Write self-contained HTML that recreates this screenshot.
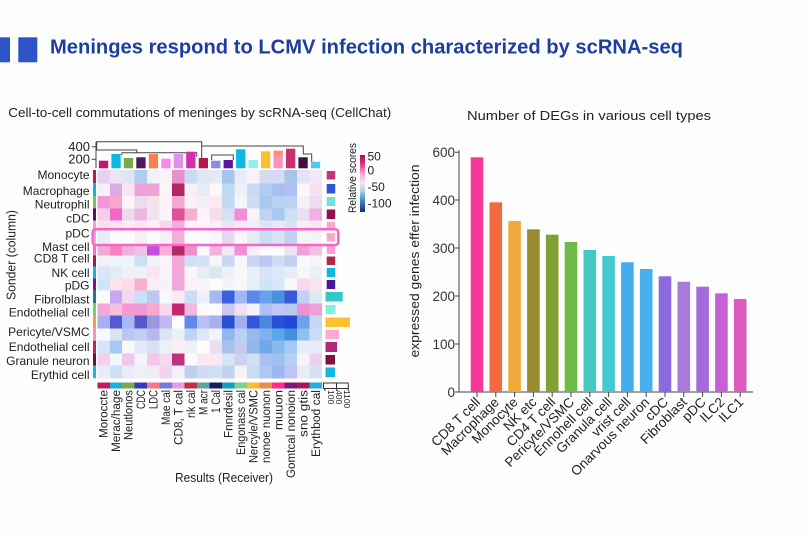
<!DOCTYPE html>
<html><head><meta charset="utf-8"><style>
html,body{margin:0;padding:0;background:#fefefe;}
svg{display:block;font-family:"Liberation Sans",Arial,sans-serif;}
</style></head><body>
<svg width="808" height="538" viewBox="0 0 808 538" xmlns="http://www.w3.org/2000/svg">
<defs>
<linearGradient id="cb" x1="0" y1="0" x2="0" y2="1">
<stop offset="0" stop-color="#9c0d58"/><stop offset="0.15" stop-color="#e0308a"/><stop offset="0.33" stop-color="#f8a8d0"/><stop offset="0.48" stop-color="#f6e6f2"/><stop offset="0.62" stop-color="#b8d4ec"/><stop offset="0.8" stop-color="#3a88c8"/><stop offset="1" stop-color="#1a2680"/>
</linearGradient>
</defs>
<rect width="808" height="538" fill="#fefefe"/>
<!-- header -->
<rect x="0" y="37.3" width="10" height="25" fill="#2d55c8"/>
<rect x="18.3" y="37.3" width="19" height="25" fill="#2d55c8"/>
<text x="50" y="53.5" font-size="20.5" font-weight="bold" fill="#1c3e9e" textLength="633" lengthAdjust="spacingAndGlyphs">Meninges respond to LCMV infection characterized by scRNA-seq</text>
<text x="8.3" y="117" font-size="12.5" fill="#222" textLength="383" lengthAdjust="spacingAndGlyphs">Cell-to-cell commutations of meninges by scRNA-seq (CellChat)</text>

<!-- top bar axis -->
<g stroke="#444" stroke-width="1" fill="none">
<path d="M96 141.7 V168 M91.7 146.7 H96 M91.7 159.3 H96"/>
<path d="M96 141.7 H201.7 V158.3 M201.7 146 H303.3 V154 H311.7 V161.7"/>
<path d="M96.7 141.7 V150 H136.7 V152.7 M121.7 152.7 H196.7 V156.7 M121.7 152.7 V155"/>
<path d="M211.7 160 V155 H233.3 V160"/>
</g>
<g font-size="13" fill="#222" text-anchor="end">
<text x="90" y="151">400</text>
<text x="90" y="163.5">200</text>
</g>
<!-- top bars -->
<g>
<rect x="98.9" y="160.7" width="9.3" height="7.6" fill="#c0187a"/>
<rect x="111.4" y="154" width="9.3" height="14.3" fill="#10b8e0"/>
<rect x="123.8" y="158" width="9.3" height="10.3" fill="#78a848"/>
<rect x="136.3" y="157.3" width="9.3" height="11" fill="#4a1860"/>
<rect x="148.8" y="154" width="9.3" height="14.3" fill="#f88050"/>
<rect x="161.3" y="158.7" width="9.3" height="9.6" fill="#f888e8"/>
<rect x="173.7" y="154" width="9.3" height="14.3" fill="#e090e8"/>
<rect x="186.2" y="151.7" width="9.3" height="16.6" fill="#d030a8"/>
<rect x="198.7" y="158" width="9.3" height="10.3" fill="#b01850"/>
<rect x="211.1" y="160.7" width="9.3" height="7.6" fill="#8890d8"/>
<rect x="223.6" y="160" width="9.3" height="8.3" fill="#5a18a0"/>
<rect x="236.1" y="149.3" width="9.3" height="19" fill="#10b8e0"/>
<rect x="248.5" y="160" width="9.3" height="8.3" fill="#90f0e8"/>
<rect x="261" y="151.3" width="9.3" height="17" fill="#ffc030"/>
<rect x="273.5" y="150.7" width="9.3" height="17.6" fill="#ff90c0"/>
<rect x="273.5" y="150.7" width="9.3" height="6" fill="#f89080"/>
<rect x="286" y="148.7" width="9.3" height="19.6" fill="#c83070"/>
<rect x="298.4" y="157.3" width="9.3" height="11" fill="#401040"/>
<rect x="310.9" y="161.7" width="9.3" height="6.6" fill="#50c8f0"/>
</g>

<!-- heatmap -->
<g shape-rendering="crispEdges">
<g transform="translate(0,170)">
<rect x="97.3" width="12.6" height="13.4" fill="#e8d0ee"/><rect x="109.8" width="12.6" height="13.4" fill="#ece4f4"/><rect x="122.2" width="12.6" height="13.4" fill="#e0e4f4"/><rect x="134.7" width="12.6" height="13.4" fill="#b0ccf0"/><rect x="147.2" width="12.6" height="13.4" fill="#eef2fa"/><rect x="159.7" width="12.6" height="13.4" fill="#f8f4f8"/><rect x="172.1" width="12.6" height="13.4" fill="#e890cc"/><rect x="184.6" width="12.6" height="13.4" fill="#c8dcf0"/><rect x="197.1" width="12.6" height="13.4" fill="#e0e8f4"/><rect x="209.5" width="12.6" height="13.4" fill="#e4eaf6"/><rect x="222" width="12.6" height="13.4" fill="#a8c4ec"/><rect x="234.5" width="12.6" height="13.4" fill="#e8ecf8"/><rect x="246.9" width="12.6" height="13.4" fill="#f4f4f8"/><rect x="259.4" width="12.6" height="13.4" fill="#d4dcf2"/><rect x="271.9" width="12.6" height="13.4" fill="#d4dcf4"/><rect x="284.4" width="12.6" height="13.4" fill="#a8c4ec"/><rect x="296.8" width="12.6" height="13.4" fill="#e4e4f4"/><rect x="309.3" width="12.6" height="13.4" fill="#f0e8f4"/>
</g>
<g transform="translate(0,183.3)">
<rect x="97.3" width="12.6" height="12.8" fill="#f8f0f4"/><rect x="109.8" width="12.6" height="12.8" fill="#dcaae4"/><rect x="122.2" width="12.6" height="12.8" fill="#f8e4f0"/><rect x="134.7" width="12.6" height="12.8" fill="#f0a0dc"/><rect x="147.2" width="12.6" height="12.8" fill="#f0a4d4"/><rect x="159.7" width="12.6" height="12.8" fill="#faf6f8"/><rect x="172.1" width="12.6" height="12.8" fill="#b02860"/><rect x="184.6" width="12.6" height="12.8" fill="#f4f0f6"/><rect x="197.1" width="12.6" height="12.8" fill="#eaeaf6"/><rect x="209.5" width="12.6" height="12.8" fill="#fcf8fa"/><rect x="222" width="12.6" height="12.8" fill="#c0d8f0"/><rect x="234.5" width="12.6" height="12.8" fill="#eef0f8"/><rect x="246.9" width="12.6" height="12.8" fill="#c8daf4"/><rect x="259.4" width="12.6" height="12.8" fill="#b4ccf0"/><rect x="271.9" width="12.6" height="12.8" fill="#a8c0f0"/><rect x="284.4" width="12.6" height="12.8" fill="#b0c0f4"/><rect x="296.8" width="12.6" height="12.8" fill="#fcf8fa"/><rect x="309.3" width="12.6" height="12.8" fill="#f8e0f0"/>
</g>
<g transform="translate(0,196)">
<rect x="97.3" width="12.6" height="12.4" fill="#f098d8"/><rect x="109.8" width="12.6" height="12.4" fill="#f8a8d0"/><rect x="122.2" width="12.6" height="12.4" fill="#fcf4f8"/><rect x="134.7" width="12.6" height="12.4" fill="#ecdcf0"/><rect x="147.2" width="12.6" height="12.4" fill="#f8e0ee"/><rect x="159.7" width="12.6" height="12.4" fill="#faf4f8"/><rect x="172.1" width="12.6" height="12.4" fill="#f4a8d0"/><rect x="184.6" width="12.6" height="12.4" fill="#fcf0f6"/><rect x="197.1" width="12.6" height="12.4" fill="#f4eef6"/><rect x="209.5" width="12.6" height="12.4" fill="#fce8f2"/><rect x="222" width="12.6" height="12.4" fill="#c4d8f0"/><rect x="234.5" width="12.6" height="12.4" fill="#f4f4fa"/><rect x="246.9" width="12.6" height="12.4" fill="#d0dcf6"/><rect x="259.4" width="12.6" height="12.4" fill="#a8c8f0"/><rect x="271.9" width="12.6" height="12.4" fill="#b8d0f4"/><rect x="284.4" width="12.6" height="12.4" fill="#c0d0f2"/><rect x="296.8" width="12.6" height="12.4" fill="#f4f0f8"/><rect x="309.3" width="12.6" height="12.4" fill="#ecdcf0"/>
</g>
<g transform="translate(0,208.3)">
<rect x="97.3" width="12.6" height="12.5" fill="#f0d0e8"/><rect x="109.8" width="12.6" height="12.5" fill="#f068c8"/><rect x="122.2" width="12.6" height="12.5" fill="#f0d8ec"/><rect x="134.7" width="12.6" height="12.5" fill="#ecb8e0"/><rect x="147.2" width="12.6" height="12.5" fill="#f0e4f2"/><rect x="159.7" width="12.6" height="12.5" fill="#faf4f8"/><rect x="172.1" width="12.6" height="12.5" fill="#e05098"/><rect x="184.6" width="12.6" height="12.5" fill="#f8b0d0"/><rect x="197.1" width="12.6" height="12.5" fill="#fcf4f8"/><rect x="209.5" width="12.6" height="12.5" fill="#f4dcec"/><rect x="222" width="12.6" height="12.5" fill="#d8e0f4"/><rect x="234.5" width="12.6" height="12.5" fill="#f08ed8"/><rect x="246.9" width="12.6" height="12.5" fill="#f6f6fa"/><rect x="259.4" width="12.6" height="12.5" fill="#c0d4f2"/><rect x="271.9" width="12.6" height="12.5" fill="#a8c8f0"/><rect x="284.4" width="12.6" height="12.5" fill="#d0e0f4"/><rect x="296.8" width="12.6" height="12.5" fill="#e8e0f0"/><rect x="309.3" width="12.6" height="12.5" fill="#f0b0e0"/>
</g>
<g transform="translate(0,220.7)">
<rect x="97.3" width="12.6" height="9.7" fill="#f8e0f0"/><rect x="109.8" width="12.6" height="9.7" fill="#f8e4f2"/><rect x="122.2" width="12.6" height="9.7" fill="#fcecf4"/><rect x="134.7" width="12.6" height="9.7" fill="#f8e8f2"/><rect x="147.2" width="12.6" height="9.7" fill="#fcf0f6"/><rect x="159.7" width="12.6" height="9.7" fill="#f8d8ec"/><rect x="172.1" width="12.6" height="9.7" fill="#f4b0d8"/><rect x="184.6" width="12.6" height="9.7" fill="#fcf4f8"/><rect x="197.1" width="12.6" height="9.7" fill="#fcf4f8"/><rect x="209.5" width="12.6" height="9.7" fill="#f8eef6"/><rect x="222" width="12.6" height="9.7" fill="#e8e4f4"/><rect x="234.5" width="12.6" height="9.7" fill="#f8e8f4"/><rect x="246.9" width="12.6" height="9.7" fill="#eef0f8"/><rect x="259.4" width="12.6" height="9.7" fill="#dce6f6"/><rect x="271.9" width="12.6" height="9.7" fill="#e4eaf8"/><rect x="284.4" width="12.6" height="9.7" fill="#dce4f4"/><rect x="296.8" width="12.6" height="9.7" fill="#f8eef4"/><rect x="309.3" width="12.6" height="9.7" fill="#f8e8f2"/>
</g>
<g transform="translate(0,230.3)">
<rect x="97.3" width="12.6" height="14.3" fill="#e4ecf8"/><rect x="109.8" width="12.6" height="14.3" fill="#fcfcfc"/><rect x="122.2" width="12.6" height="14.3" fill="#fcfcfc"/><rect x="134.7" width="12.6" height="14.3" fill="#f4f0f6"/><rect x="147.2" width="12.6" height="14.3" fill="#fcfcfc"/><rect x="159.7" width="12.6" height="14.3" fill="#f8f0f4"/><rect x="172.1" width="12.6" height="14.3" fill="#f0b0d8"/><rect x="184.6" width="12.6" height="14.3" fill="#fcfcfc"/><rect x="197.1" width="12.6" height="14.3" fill="#fcfcfc"/><rect x="209.5" width="12.6" height="14.3" fill="#f8f8fc"/><rect x="222" width="12.6" height="14.3" fill="#e4d8f0"/><rect x="234.5" width="12.6" height="14.3" fill="#f8f8fa"/><rect x="246.9" width="12.6" height="14.3" fill="#e4ecf8"/><rect x="259.4" width="12.6" height="14.3" fill="#c8ddf6"/><rect x="271.9" width="12.6" height="14.3" fill="#d8e4f6"/><rect x="284.4" width="12.6" height="14.3" fill="#c0d4f0"/><rect x="296.8" width="12.6" height="14.3" fill="#f8f4f0"/><rect x="309.3" width="12.6" height="14.3" fill="#f4f4f8"/>
</g>
<g transform="translate(0,244.5)">
<rect x="97.3" width="12.6" height="11.1" fill="#f0a8d8"/><rect x="109.8" width="12.6" height="11.1" fill="#f880c0"/><rect x="122.2" width="12.6" height="11.1" fill="#f0b0e0"/><rect x="134.7" width="12.6" height="11.1" fill="#f0c0e8"/><rect x="147.2" width="12.6" height="11.1" fill="#c050d8"/><rect x="159.7" width="12.6" height="11.1" fill="#f8b0d8"/><rect x="172.1" width="12.6" height="11.1" fill="#b02868"/><rect x="184.6" width="12.6" height="11.1" fill="#f090c8"/><rect x="197.1" width="12.6" height="11.1" fill="#fafafc"/><rect x="209.5" width="12.6" height="11.1" fill="#f4b0e0"/><rect x="222" width="12.6" height="11.1" fill="#f0e8f4"/><rect x="234.5" width="12.6" height="11.1" fill="#f090d8"/><rect x="246.9" width="12.6" height="11.1" fill="#f8f0f6"/><rect x="259.4" width="12.6" height="11.1" fill="#fcfcfc"/><rect x="271.9" width="12.6" height="11.1" fill="#fcfcfc"/><rect x="284.4" width="12.6" height="11.1" fill="#e8e4f4"/><rect x="296.8" width="12.6" height="11.1" fill="#f4a0d8"/><rect x="309.3" width="12.6" height="11.1" fill="#f4c0e0"/>
</g>
<g transform="translate(0,255.5)">
<rect x="97.3" width="12.6" height="11.1" fill="#f4f0f8"/><rect x="109.8" width="12.6" height="11.1" fill="#eef2fa"/><rect x="122.2" width="12.6" height="11.1" fill="#eef2fa"/><rect x="134.7" width="12.6" height="11.1" fill="#d0def4"/><rect x="147.2" width="12.6" height="11.1" fill="#f2f2fa"/><rect x="159.7" width="12.6" height="11.1" fill="#f8f6fa"/><rect x="172.1" width="12.6" height="11.1" fill="#f0a8d8"/><rect x="184.6" width="12.6" height="11.1" fill="#d0e0f4"/><rect x="197.1" width="12.6" height="11.1" fill="#d4e2f6"/><rect x="209.5" width="12.6" height="11.1" fill="#f4f6fa"/><rect x="222" width="12.6" height="11.1" fill="#c8d8f2"/><rect x="234.5" width="12.6" height="11.1" fill="#f8f8fa"/><rect x="246.9" width="12.6" height="11.1" fill="#c8d8f2"/><rect x="259.4" width="12.6" height="11.1" fill="#b8c8f0"/><rect x="271.9" width="12.6" height="11.1" fill="#d0dcf4"/><rect x="284.4" width="12.6" height="11.1" fill="#c0d0f2"/><rect x="296.8" width="12.6" height="11.1" fill="#fafafc"/><rect x="309.3" width="12.6" height="11.1" fill="#f4f4fa"/>
</g>
<g transform="translate(0,266.5)">
<rect x="97.3" width="12.6" height="12.1" fill="#dce4f6"/><rect x="109.8" width="12.6" height="12.1" fill="#e0ecfa"/><rect x="122.2" width="12.6" height="12.1" fill="#eef0f6"/><rect x="134.7" width="12.6" height="12.1" fill="#eef2f8"/><rect x="147.2" width="12.6" height="12.1" fill="#f8e4f2"/><rect x="159.7" width="12.6" height="12.1" fill="#f8f4f8"/><rect x="172.1" width="12.6" height="12.1" fill="#f0a8d8"/><rect x="184.6" width="12.6" height="12.1" fill="#f8f8fa"/><rect x="197.1" width="12.6" height="12.1" fill="#e8ecf8"/><rect x="209.5" width="12.6" height="12.1" fill="#d8e8f4"/><rect x="222" width="12.6" height="12.1" fill="#eef0f8"/><rect x="234.5" width="12.6" height="12.1" fill="#f8f8fa"/><rect x="246.9" width="12.6" height="12.1" fill="#eaf0f8"/><rect x="259.4" width="12.6" height="12.1" fill="#d8e4f8"/><rect x="271.9" width="12.6" height="12.1" fill="#dce8f8"/><rect x="284.4" width="12.6" height="12.1" fill="#e8ecf8"/><rect x="296.8" width="12.6" height="12.1" fill="#f8f8fa"/><rect x="309.3" width="12.6" height="12.1" fill="#ecf0f8"/>
</g>
<g transform="translate(0,278.5)">
<rect x="97.3" width="12.6" height="12.3" fill="#d0e4f8"/><rect x="109.8" width="12.6" height="12.3" fill="#fce4ec"/><rect x="122.2" width="12.6" height="12.3" fill="#fcdce8"/><rect x="134.7" width="12.6" height="12.3" fill="#f8b0cc"/><rect x="147.2" width="12.6" height="12.3" fill="#f8eef4"/><rect x="159.7" width="12.6" height="12.3" fill="#f4f2fa"/><rect x="172.1" width="12.6" height="12.3" fill="#f0a8d8"/><rect x="184.6" width="12.6" height="12.3" fill="#fcf0f6"/><rect x="197.1" width="12.6" height="12.3" fill="#f8f4f8"/><rect x="209.5" width="12.6" height="12.3" fill="#fcfcf8"/><rect x="222" width="12.6" height="12.3" fill="#f2f4f8"/><rect x="234.5" width="12.6" height="12.3" fill="#f8f8fa"/><rect x="246.9" width="12.6" height="12.3" fill="#e8eef8"/><rect x="259.4" width="12.6" height="12.3" fill="#d0e4f8"/><rect x="271.9" width="12.6" height="12.3" fill="#d8e8f8"/><rect x="284.4" width="12.6" height="12.3" fill="#f8f8fa"/><rect x="296.8" width="12.6" height="12.3" fill="#f8d8ec"/><rect x="309.3" width="12.6" height="12.3" fill="#f8e4f0"/>
</g>
<g transform="translate(0,290.7)">
<rect x="97.3" width="12.6" height="12.7" fill="#fcfcfc"/><rect x="109.8" width="12.6" height="12.7" fill="#c8a8f0"/><rect x="122.2" width="12.6" height="12.7" fill="#f4d8f0"/><rect x="134.7" width="12.6" height="12.7" fill="#c8e0f6"/><rect x="147.2" width="12.6" height="12.7" fill="#bcc8f0"/><rect x="159.7" width="12.6" height="12.7" fill="#f8f8fc"/><rect x="172.1" width="12.6" height="12.7" fill="#fce8f4"/><rect x="184.6" width="12.6" height="12.7" fill="#d0dcf4"/><rect x="197.1" width="12.6" height="12.7" fill="#eef0f8"/><rect x="209.5" width="12.6" height="12.7" fill="#a8b8f0"/><rect x="222" width="12.6" height="12.7" fill="#3a60e0"/><rect x="234.5" width="12.6" height="12.7" fill="#a0b8f4"/><rect x="246.9" width="12.6" height="12.7" fill="#5a88e8"/><rect x="259.4" width="12.6" height="12.7" fill="#68a0f0"/><rect x="271.9" width="12.6" height="12.7" fill="#4890e0"/><rect x="284.4" width="12.6" height="12.7" fill="#3858d8"/><rect x="296.8" width="12.6" height="12.7" fill="#c0d0f6"/><rect x="309.3" width="12.6" height="12.7" fill="#e0e8f4"/>
</g>
<g transform="translate(0,303.3)">
<rect x="97.3" width="12.6" height="12.5" fill="#f4a8d8"/><rect x="109.8" width="12.6" height="12.5" fill="#f4c0e0"/><rect x="122.2" width="12.6" height="12.5" fill="#f898d0"/><rect x="134.7" width="12.6" height="12.5" fill="#f098d0"/><rect x="147.2" width="12.6" height="12.5" fill="#f8a8d0"/><rect x="159.7" width="12.6" height="12.5" fill="#f8d8ec"/><rect x="172.1" width="12.6" height="12.5" fill="#c02870"/><rect x="184.6" width="12.6" height="12.5" fill="#f4b8e0"/><rect x="197.1" width="12.6" height="12.5" fill="#fcfcfc"/><rect x="209.5" width="12.6" height="12.5" fill="#fcfcfc"/><rect x="222" width="12.6" height="12.5" fill="#c8c8f0"/><rect x="234.5" width="12.6" height="12.5" fill="#f0e0f4"/><rect x="246.9" width="12.6" height="12.5" fill="#f4f4f8"/><rect x="259.4" width="12.6" height="12.5" fill="#b0c0f4"/><rect x="271.9" width="12.6" height="12.5" fill="#c0c8f4"/><rect x="284.4" width="12.6" height="12.5" fill="#b8c8f0"/><rect x="296.8" width="12.6" height="12.5" fill="#f090d8"/><rect x="309.3" width="12.6" height="12.5" fill="#f0a0d8"/>
</g>
<g transform="translate(0,315.7)">
<rect x="97.3" width="12.6" height="12.7" fill="#a8b0f0"/><rect x="109.8" width="12.6" height="12.7" fill="#5858d0"/><rect x="122.2" width="12.6" height="12.7" fill="#a8b8f4"/><rect x="134.7" width="12.6" height="12.7" fill="#5858c8"/><rect x="147.2" width="12.6" height="12.7" fill="#9898e0"/><rect x="159.7" width="12.6" height="12.7" fill="#c0b8f0"/><rect x="172.1" width="12.6" height="12.7" fill="#fcfcfc"/><rect x="184.6" width="12.6" height="12.7" fill="#6088e8"/><rect x="197.1" width="12.6" height="12.7" fill="#b8c0f4"/><rect x="209.5" width="12.6" height="12.7" fill="#a8b0f0"/><rect x="222" width="12.6" height="12.7" fill="#2850d0"/><rect x="234.5" width="12.6" height="12.7" fill="#a0b0f0"/><rect x="246.9" width="12.6" height="12.7" fill="#3058d8"/><rect x="259.4" width="12.6" height="12.7" fill="#4888e0"/><rect x="271.9" width="12.6" height="12.7" fill="#2850d8"/><rect x="284.4" width="12.6" height="12.7" fill="#2048d0"/><rect x="296.8" width="12.6" height="12.7" fill="#70a0e8"/><rect x="309.3" width="12.6" height="12.7" fill="#c8d8f4"/>
</g>
<g transform="translate(0,328.3)">
<rect x="97.3" width="12.6" height="12.5" fill="#f8f8fc"/><rect x="109.8" width="12.6" height="12.5" fill="#dce4f0"/><rect x="122.2" width="12.6" height="12.5" fill="#b8c8f0"/><rect x="134.7" width="12.6" height="12.5" fill="#c0d0f4"/><rect x="147.2" width="12.6" height="12.5" fill="#b8b8f0"/><rect x="159.7" width="12.6" height="12.5" fill="#dce4f6"/><rect x="172.1" width="12.6" height="12.5" fill="#e8f0f8"/><rect x="184.6" width="12.6" height="12.5" fill="#c0d4f4"/><rect x="197.1" width="12.6" height="12.5" fill="#e0e8f6"/><rect x="209.5" width="12.6" height="12.5" fill="#f0f4f8"/><rect x="222" width="12.6" height="12.5" fill="#90b8f0"/><rect x="234.5" width="12.6" height="12.5" fill="#b8d0f4"/><rect x="246.9" width="12.6" height="12.5" fill="#98b8f0"/><rect x="259.4" width="12.6" height="12.5" fill="#80b0f0"/><rect x="271.9" width="12.6" height="12.5" fill="#58a8e8"/><rect x="284.4" width="12.6" height="12.5" fill="#4090e0"/><rect x="296.8" width="12.6" height="12.5" fill="#90c0f0"/><rect x="309.3" width="12.6" height="12.5" fill="#c8ddf4"/>
</g>
<g transform="translate(0,340.7)">
<rect x="97.3" width="12.6" height="12.7" fill="#d8e4f8"/><rect x="109.8" width="12.6" height="12.7" fill="#a8c8f4"/><rect x="122.2" width="12.6" height="12.7" fill="#f8f8fa"/><rect x="134.7" width="12.6" height="12.7" fill="#e4e8f8"/><rect x="147.2" width="12.6" height="12.7" fill="#d8e0f4"/><rect x="159.7" width="12.6" height="12.7" fill="#ecf0f8"/><rect x="172.1" width="12.6" height="12.7" fill="#fceef4"/><rect x="184.6" width="12.6" height="12.7" fill="#eef0f8"/><rect x="197.1" width="12.6" height="12.7" fill="#fcfcfc"/><rect x="209.5" width="12.6" height="12.7" fill="#ecdcf0"/><rect x="222" width="12.6" height="12.7" fill="#a8c0ec"/><rect x="234.5" width="12.6" height="12.7" fill="#c8c8f0"/><rect x="246.9" width="12.6" height="12.7" fill="#90b8ee"/><rect x="259.4" width="12.6" height="12.7" fill="#70a8ec"/><rect x="271.9" width="12.6" height="12.7" fill="#88b8f0"/><rect x="284.4" width="12.6" height="12.7" fill="#a8c8f4"/><rect x="296.8" width="12.6" height="12.7" fill="#e8ecf8"/><rect x="309.3" width="12.6" height="12.7" fill="#e8eaf8"/>
</g>
<g transform="translate(0,353.3)">
<rect x="97.3" width="12.6" height="12.5" fill="#f4d0ec"/><rect x="109.8" width="12.6" height="12.5" fill="#f0f8f8"/><rect x="122.2" width="12.6" height="12.5" fill="#f0c8ec"/><rect x="134.7" width="12.6" height="12.5" fill="#f4f4fa"/><rect x="147.2" width="12.6" height="12.5" fill="#f4c8e8"/><rect x="159.7" width="12.6" height="12.5" fill="#f8d8ee"/><rect x="172.1" width="12.6" height="12.5" fill="#c03080"/><rect x="184.6" width="12.6" height="12.5" fill="#fcfcfc"/><rect x="197.1" width="12.6" height="12.5" fill="#fce8f2"/><rect x="209.5" width="12.6" height="12.5" fill="#fce8f2"/><rect x="222" width="12.6" height="12.5" fill="#d8e4f6"/><rect x="234.5" width="12.6" height="12.5" fill="#d0d0f0"/><rect x="246.9" width="12.6" height="12.5" fill="#d0e0f4"/><rect x="259.4" width="12.6" height="12.5" fill="#a8c0f0"/><rect x="271.9" width="12.6" height="12.5" fill="#a0c0f0"/><rect x="284.4" width="12.6" height="12.5" fill="#b8d0f4"/><rect x="296.8" width="12.6" height="12.5" fill="#f4f4fa"/><rect x="309.3" width="12.6" height="12.5" fill="#ecd0ec"/>
</g>
<g transform="translate(0,365.7)">
<rect x="97.3" width="12.6" height="12.6" fill="#e8ecf8"/><rect x="109.8" width="12.6" height="12.6" fill="#d0e0f4"/><rect x="122.2" width="12.6" height="12.6" fill="#e8ecf8"/><rect x="134.7" width="12.6" height="12.6" fill="#f0eef8"/><rect x="147.2" width="12.6" height="12.6" fill="#f4eaf6"/><rect x="159.7" width="12.6" height="12.6" fill="#f0d4f0"/><rect x="172.1" width="12.6" height="12.6" fill="#f4f4f8"/><rect x="184.6" width="12.6" height="12.6" fill="#c0cef0"/><rect x="197.1" width="12.6" height="12.6" fill="#d0dcf4"/><rect x="209.5" width="12.6" height="12.6" fill="#d0e0f4"/><rect x="222" width="12.6" height="12.6" fill="#c0d4f0"/><rect x="234.5" width="12.6" height="12.6" fill="#f4f4f8"/><rect x="246.9" width="12.6" height="12.6" fill="#c8dcf4"/><rect x="259.4" width="12.6" height="12.6" fill="#b0c8f0"/><rect x="271.9" width="12.6" height="12.6" fill="#98b8f0"/><rect x="284.4" width="12.6" height="12.6" fill="#c0c4f4"/><rect x="296.8" width="12.6" height="12.6" fill="#e8ecf8"/><rect x="309.3" width="12.6" height="12.6" fill="#d8e0f4"/>
</g>
</g>

<!-- left row color strip -->
<g>
<rect x="93" y="170" width="3" height="13.3" fill="#c01860"/>
<rect x="93" y="183.3" width="3" height="12.7" fill="#18b0d8"/>
<rect x="93" y="196" width="3" height="12.3" fill="#78c060"/>
<rect x="93" y="208.3" width="3" height="12.4" fill="#4a1868"/>
<rect x="93" y="220.7" width="3" height="9.6" fill="#f8a0d0"/>
<rect x="93" y="230.3" width="3" height="14.2" fill="#f8a0d8"/>
<rect x="93" y="244.5" width="3" height="11" fill="#f070c8"/>
<rect x="93" y="255.5" width="3" height="11" fill="#a01c48"/>
<rect x="93" y="266.5" width="3" height="12" fill="#18b0e0"/>
<rect x="93" y="278.5" width="3" height="12.2" fill="#801878"/>
<rect x="93" y="290.7" width="3" height="12.6" fill="#188080"/>
<rect x="93" y="303.3" width="3" height="12.4" fill="#70d080"/>
<rect x="93" y="315.7" width="3" height="12.6" fill="#f8a040"/>
<rect x="93" y="328.3" width="3" height="12.4" fill="#f090d8"/>
<rect x="93" y="340.7" width="3" height="12.6" fill="#c81e60"/>
<rect x="93" y="353.3" width="3" height="12.4" fill="#601830"/>
<rect x="93" y="365.7" width="3" height="12.6" fill="#18b8e0"/>
</g>

<!-- right squares -->
<g>
<rect x="326.7" y="171" width="8.5" height="8.5" fill="#c8307a"/>
<rect x="326.7" y="184" width="8.5" height="9.5" fill="#2a58d0"/>
<rect x="326.7" y="197" width="8.5" height="9" fill="#70e0d8"/>
<rect x="326.7" y="209.5" width="8.5" height="9.5" fill="#901050"/>
<rect x="326.7" y="222" width="8.5" height="6" fill="#f8a8c8"/>
<rect x="326.7" y="233" width="8.5" height="8.5" fill="#f8a8c8"/>
<rect x="326.7" y="246" width="8.5" height="8" fill="#f8a0d8"/>
<rect x="326.7" y="256.5" width="8.5" height="8.5" fill="#b02850"/>
<rect x="326.7" y="268" width="8.5" height="9" fill="#10b8e0"/>
<rect x="326.7" y="280" width="8.5" height="9" fill="#4a1898"/>
<rect x="325.5" y="292" width="17.2" height="9.5" fill="#30c8c8"/>
<rect x="325.5" y="305" width="10" height="9" fill="#80f0e0"/>
<rect x="325.5" y="317.5" width="24.5" height="9.5" fill="#ffc030"/>
<rect x="325.5" y="330" width="13.5" height="9" fill="#ffa8d0"/>
<rect x="325.5" y="342" width="11.5" height="10" fill="#b02878"/>
<rect x="325.5" y="355" width="9.5" height="9.5" fill="#801040"/>
<rect x="325.5" y="367.5" width="9.5" height="9.5" fill="#10b8e0"/>
</g>

<!-- highlight box -->
<rect x="92.7" y="229.3" width="245.6" height="15.7" rx="3" ry="3" fill="none" stroke="#fa64c8" stroke-width="2.5"/>

<!-- bottom column strip -->
<g shape-rendering="crispEdges">
<rect x="97.3" y="382.5" width="12.6" height="6" fill="#c01c5c"/><rect x="109.8" y="382.5" width="12.6" height="6" fill="#18b0d8"/><rect x="122.2" y="382.5" width="12.6" height="6" fill="#78a850"/><rect x="134.7" y="382.5" width="12.6" height="6" fill="#3838b8"/><rect x="147.2" y="382.5" width="12.6" height="6" fill="#f07890"/><rect x="159.7" y="382.5" width="12.6" height="6" fill="#7a78d0"/><rect x="172.1" y="382.5" width="12.6" height="6" fill="#e0a0e0"/><rect x="184.6" y="382.5" width="12.6" height="6" fill="#c03040"/><rect x="197.1" y="382.5" width="12.6" height="6" fill="#60a0a8"/><rect x="209.5" y="382.5" width="12.6" height="6" fill="#201860"/><rect x="222" y="382.5" width="12.6" height="6" fill="#10a0b8"/><rect x="234.5" y="382.5" width="12.6" height="6" fill="#80d090"/><rect x="246.9" y="382.5" width="12.6" height="6" fill="#ffb830"/><rect x="259.4" y="382.5" width="12.6" height="6" fill="#e09050"/><rect x="271.9" y="382.5" width="12.6" height="6" fill="#ff2a8a"/><rect x="284.4" y="382.5" width="12.6" height="6" fill="#7a1a70"/><rect x="296.8" y="382.5" width="12.6" height="6" fill="#a81858"/><rect x="309.3" y="382.5" width="12.6" height="6" fill="#20b0e0"/>
</g>
<!-- size legend bottom right -->
<g stroke="#333" stroke-width="1" fill="none">
<rect x="323.5" y="383" width="13" height="5.5"/>
<rect x="336.5" y="383" width="11.8" height="5.5"/>
<path d="M325 388.5 V391 M336.7 388.5 V391 M348.3 388.5 V391"/>
</g>
<g font-size="8.5" fill="#222">
<text transform="translate(328,390) rotate(90)">100</text>
<text transform="translate(336,390) rotate(90)">400</text>
<text transform="translate(344,390) rotate(90)">1100</text>
</g>

<!-- colorbar -->
<rect x="360" y="155" width="5" height="57" fill="url(#cb)"/>
<g font-size="12" fill="#222">
<text x="367.5" y="160.5">50</text>
<text x="367.5" y="174.5">0</text>
<text x="367.5" y="191">-50</text>
<text x="367.5" y="207.5">-100</text>
</g>
<text transform="translate(356,178) rotate(-90)" font-size="11" fill="#222" text-anchor="middle" textLength="70" lengthAdjust="spacingAndGlyphs">Relative scores</text>

<!-- row labels -->
<g font-size="12" fill="#222" text-anchor="end">
<text x="89.5" y="179">Monocyte</text>
<text x="89.5" y="195">Macrophage</text>
<text x="89.5" y="208.3">Neutrophil</text>
<text x="89.5" y="222.5">cDC</text>
<text x="89.5" y="237.5">pDC</text>
<text x="89.5" y="251">Mast cell</text>
<text x="89.5" y="262.5">CD8  T cell</text>
<text x="89.5" y="277">NK cell</text>
<text x="89.5" y="289.5">pDG</text>
<text x="89.5" y="303.3">Fibrolblast</text>
<text x="89.5" y="316.5">Endothelial cell</text>
<text x="89.5" y="336">Pericyte/VSMC</text>
<text x="89.5" y="351">Endothelial cell</text>
<text x="89.5" y="365">Granule neuron</text>
<text x="89.5" y="379">Erythid cell</text>
</g>
<text transform="translate(15.5,255) rotate(-90)" font-size="13" fill="#222" text-anchor="middle" textLength="90" lengthAdjust="spacingAndGlyphs">Sonder (column)</text>

<!-- column labels -->
<g font-size="11.5" fill="#222" text-anchor="end">
<text transform="translate(107.5,390) rotate(-90)" textLength="48" lengthAdjust="spacingAndGlyphs">Moroccte</text>
<text transform="translate(120,390) rotate(-90)" textLength="62" lengthAdjust="spacingAndGlyphs">Merac/hage</text>
<text transform="translate(132.5,390) rotate(-90)" textLength="50" lengthAdjust="spacingAndGlyphs">Neutlonos</text>
<text transform="translate(145,390) rotate(-90)" textLength="19" lengthAdjust="spacingAndGlyphs">CDC</text>
<text transform="translate(157.5,390) rotate(-90)" textLength="19" lengthAdjust="spacingAndGlyphs">LDC</text>
<text transform="translate(170,390) rotate(-90)" textLength="35" lengthAdjust="spacingAndGlyphs">Mae cal</text>
<text transform="translate(182.4,390) rotate(-90)" textLength="55" lengthAdjust="spacingAndGlyphs">CD8, T cal</text>
<text transform="translate(195,390) rotate(-90)" textLength="28" lengthAdjust="spacingAndGlyphs">nk cal</text>
<text transform="translate(207.5,390) rotate(-90)" textLength="25" lengthAdjust="spacingAndGlyphs">M acr</text>
<text transform="translate(220,390) rotate(-90)" textLength="23" lengthAdjust="spacingAndGlyphs">1 Cal</text>
<text transform="translate(232.4,390) rotate(-90)" textLength="48" lengthAdjust="spacingAndGlyphs">Fnnrdesil</text>
<text transform="translate(245,390) rotate(-90)" textLength="65" lengthAdjust="spacingAndGlyphs">Engonass cal</text>
<text transform="translate(257.4,390) rotate(-90)" textLength="73" lengthAdjust="spacingAndGlyphs">Nercyle/VSMC</text>
<text transform="translate(270,390) rotate(-90)" textLength="73" lengthAdjust="spacingAndGlyphs">nonoe nuonon</text>
<text transform="translate(282.4,390) rotate(-90)" textLength="40" lengthAdjust="spacingAndGlyphs">muuon</text>
<text transform="translate(295,390) rotate(-90)" textLength="88" lengthAdjust="spacingAndGlyphs">Gomtcal nonoion</text>
<text transform="translate(307.5,390) rotate(-90)" textLength="47" lengthAdjust="spacingAndGlyphs">sno gtis</text>
<text transform="translate(320,390) rotate(-90)" textLength="67" lengthAdjust="spacingAndGlyphs">Erythbod cal</text>
</g>
<text x="224" y="482" font-size="13" fill="#222" text-anchor="middle" textLength="98" lengthAdjust="spacingAndGlyphs">Results (Receiver)</text>

<!-- ============ BAR CHART ============ -->
<text x="589" y="120" font-size="13" fill="#222" text-anchor="middle" textLength="244" lengthAdjust="spacingAndGlyphs">Number of DEGs in various cell types</text>
<g stroke="#444" stroke-width="1" fill="none">
<path d="M459 150 V392 H753"/>
<path d="M455 152.3 H459 M455 200 H459 M455 248 H459 M455 296 H459 M455 344 H459 M455 392 H459"/>
<path d="M477 392 V397 M495.8 392 V397 M514.6 392 V397 M533.4 392 V397 M552.2 392 V397 M571 392 V397 M589.8 392 V397 M608.6 392 V397 M627.4 392 V397 M646.2 392 V397 M665 392 V397 M683.8 392 V397 M702.6 392 V397 M721.4 392 V397 M740.2 392 V397"/>
</g>
<g font-size="13.5" fill="#333" text-anchor="end">
<text x="455" y="157">600</text>
<text x="455" y="205">400</text>
<text x="455" y="253">300</text>
<text x="455" y="301">200</text>
<text x="455" y="349">100</text>
<text x="455" y="397">0</text>
</g>
<text transform="translate(419,261) rotate(-90)" font-size="13" fill="#222" text-anchor="middle" textLength="193" lengthAdjust="spacingAndGlyphs">expressed genes effer infection</text>
<g>
<rect x="470.7" y="157.3" width="12.6" height="234.7" fill="#f5399a"/>
<rect x="489.5" y="202.3" width="12.6" height="189.7" fill="#f26a40"/>
<rect x="508.3" y="221" width="12.6" height="171" fill="#f2a93b"/>
<rect x="527.1" y="229.3" width="12.6" height="162.7" fill="#9a8a2e"/>
<rect x="545.9" y="234.7" width="12.6" height="157.3" fill="#7fa033"/>
<rect x="564.7" y="242" width="12.6" height="150" fill="#6cbb45"/>
<rect x="583.5" y="250" width="12.6" height="142" fill="#45c9c4"/>
<rect x="602.3" y="256" width="12.6" height="136" fill="#45c9cc"/>
<rect x="621.1" y="262.3" width="12.6" height="129.7" fill="#45adeb"/>
<rect x="639.9" y="269" width="12.6" height="123" fill="#47aef0"/>
<rect x="658.7" y="276.3" width="12.6" height="115.7" fill="#8c6ade"/>
<rect x="677.5" y="281.7" width="12.6" height="110.3" fill="#a97bd9"/>
<rect x="696.3" y="286.7" width="12.6" height="105.3" fill="#a46bdd"/>
<rect x="715.1" y="293.3" width="12.6" height="98.7" fill="#c75fd8"/>
<rect x="733.9" y="299" width="12.6" height="93" fill="#db5cbe"/>
</g>
<g font-size="13.5" fill="#222" text-anchor="end">
<text transform="translate(481,403) rotate(-45)">CD8 T cell</text>
<text transform="translate(499.8,403) rotate(-45)">Macrophage</text>
<text transform="translate(518.6,403) rotate(-45)">Monocyte</text>
<text transform="translate(537.4,403) rotate(-45)">NK etc</text>
<text transform="translate(556.2,403) rotate(-45)">CD4 T cell</text>
<text transform="translate(575,403) rotate(-45)">Pericyte/VSMC</text>
<text transform="translate(593.8,403) rotate(-45)">Ennohell cell</text>
<text transform="translate(612.6,403) rotate(-45)">Granula cell</text>
<text transform="translate(631.4,403) rotate(-45)">vrist cell</text>
<text transform="translate(650.2,403) rotate(-45)">Onarvous neuron</text>
<text transform="translate(669,403) rotate(-45)">cDC</text>
<text transform="translate(687.8,403) rotate(-45)">Fibroblast</text>
<text transform="translate(706.6,403) rotate(-45)">pDC</text>
<text transform="translate(725.4,403) rotate(-45)">ILC2</text>
<text transform="translate(744.2,403) rotate(-45)">ILC1</text>
</g>
</svg>
</body></html>
